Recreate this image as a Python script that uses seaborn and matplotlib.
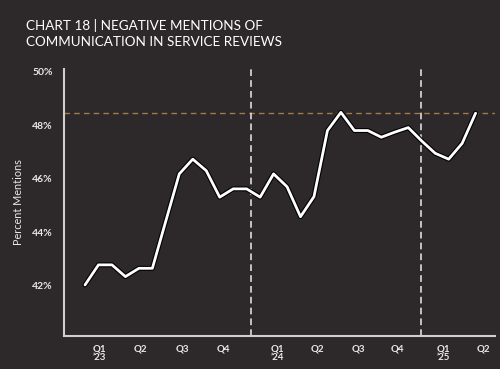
import numpy as np
import pandas as pd
import matplotlib
matplotlib.use("Agg")
import matplotlib.pyplot as plt
import matplotlib.patheffects as pe
import seaborn as sns

# ---- data ----
months = pd.period_range("2023-01", periods=30, freq="M").astype(str).tolist()
percent = [42.04, 42.79, 42.79, 42.35, 42.66, 42.66, 44.43, 46.19, 46.74, 46.31,
           45.32, 45.63, 45.63, 45.32, 46.19, 45.71, 44.59, 45.34, 47.81, 48.49,
           47.81, 47.81, 47.56, 47.75, 47.92, 47.42, 46.96, 46.74, 47.33, 48.46]
reference_level = 48.47
tick_labels = ["Q1\n\u201923", "Q2", "Q3", "Q4", "Q1\n\u201924", "Q2", "Q3", "Q4",
               "Q1\n\u201925", "Q2"]
ytick_values = [42, 44, 46, 48, 50]

# ---- layout constants (positions in month-index units) ----
tick_pos = [1.04, 4.08, 7.2, 10.25, 14.26, 17.25, 20.3, 23.2, 26.6, 29.55]
year_lines = [12.32, 24.94]

df = pd.DataFrame({"idx": np.arange(len(percent)), "month": months, "pct": percent})

BG = "#2d2829"
sns.set_theme(style="dark")
plt.rcParams["font.family"] = ["Lato", "DejaVu Sans"]

fig = plt.figure(figsize=(5, 3.69), dpi=100, facecolor=BG)
ax = fig.add_axes([0.128, 0.0894, 0.862, 0.7236])
ax.set_facecolor(BG)

sns.lineplot(data=df, x="idx", y="pct", ax=ax, color="white", linewidth=2.0,
             path_effects=[pe.Stroke(linewidth=3.6, foreground="#000000"), pe.Normal()],
             zorder=5)

ax.axhline(reference_level, color="#a07c48", linestyle=(0, (4, 3)), linewidth=1.0, zorder=2)
for xv in year_lines:
    ax.axvline(xv, color="#dddddd", linestyle=(0, (4, 2.5)), linewidth=1.2, zorder=2)

ax.set_xlim(-1.56, 30.44)
ax.set_ylim(40.13, 50.11)

ax.set_xticks(tick_pos)
ax.set_xticklabels(tick_labels)
ax.set_yticks(ytick_values)
ax.set_yticklabels([f"{v}%" for v in ytick_values])

ax.tick_params(axis="x", colors="#e8e8e8", labelsize=7, length=0, pad=6)
ax.tick_params(axis="y", colors="#e8e8e8", labelsize=7.5, length=0, pad=8)
for lab in ax.get_xticklabels() + ax.get_yticklabels():
    lab.set_fontweight("bold")
for lab in ax.get_xticklabels():
    lab.set_linespacing(0.95)

ax.set_xlabel("")
ax.set_ylabel("Percent Mentions", color="#e8e8e8", fontsize=7.8, labelpad=6)
ax.grid(False)

for s in ["top", "right"]:
    ax.spines[s].set_visible(False)
for s in ["left", "bottom"]:
    ax.spines[s].set_visible(True)
    ax.spines[s].set_color("#cfcfcf")
    ax.spines[s].set_linewidth(1.5)

fig.text(0.052, 0.948, "CHART 18 | NEGATIVE MENTIONS OF\nCOMMUNICATION IN SERVICE REVIEWS",
         color="white", fontsize=9.7, ha="left", va="top", linespacing=1.35)

fig.savefig("out.png", dpi=100, facecolor=BG)
